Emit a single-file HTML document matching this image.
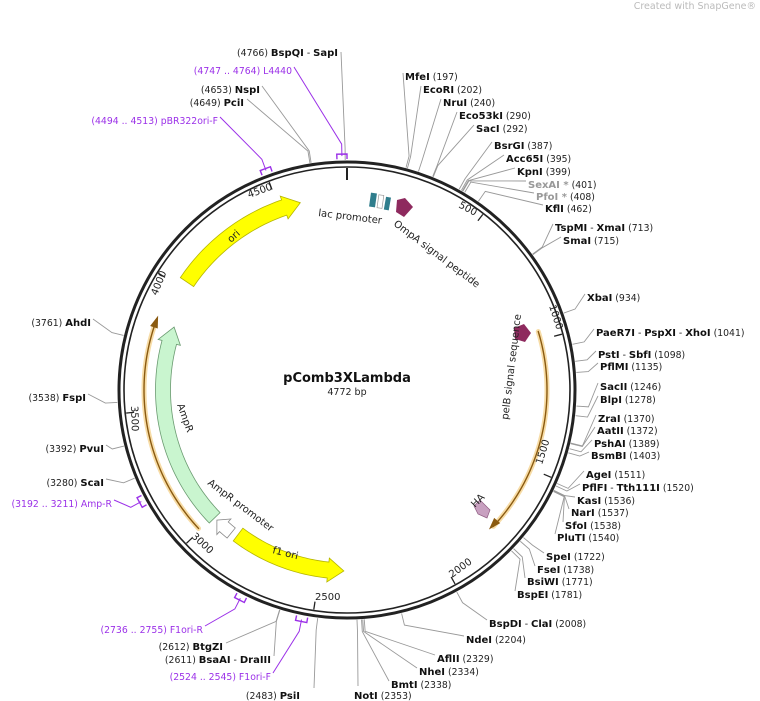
<!DOCTYPE html>
<html><head><meta charset="utf-8"><style>
html,body{margin:0;padding:0;background:#fff;}
svg{display:block;font-family:"DejaVu Sans","Liberation Sans",sans-serif;}
.n{font-weight:bold;font-size:10px;fill:#111;}
.g{font-weight:bold;font-size:10px;fill:#999;}
.p{font-size:9.3px;fill:#9b30e8;}
.k{font-size:9.3px;fill:#222;}
.f{font-size:10px;fill:#222;}
.t{font-size:10px;fill:#222;}
</style></head><body>
<svg id="s" width="760" height="701" viewBox="0 0 760 701" xmlns="http://www.w3.org/2000/svg">
<g id="lines"></g>
<text x="756" y="9" text-anchor="end" style="font-size:9.5px;fill:#bbb">Created with SnapGene®</text>
<circle cx="347" cy="390" r="228" fill="none" stroke="#222" stroke-width="3"/>
<circle cx="347" cy="390" r="223" fill="none" stroke="#222" stroke-width="1.6"/>
<g id="feat"></g>

<text x="347" y="382" text-anchor="middle" style="font-weight:bold;font-size:13px;fill:#111">pComb3XLambda</text>
<text x="347" y="395" text-anchor="middle" style="font-size:9.5px;fill:#222">4772 bp</text>

<text class="f" transform="translate(318,216) rotate(7)">lac promoter</text>
<text class="f" transform="translate(393,225) rotate(37)">OmpA signal peptide</text>
<text class="f" transform="translate(508,420) rotate(-83)">pelB signal sequence</text>
<text class="f" transform="translate(475,508) rotate(-45)">HA</text>
<text class="f" transform="translate(231,243) rotate(-42)">ori</text>
<text class="f" transform="translate(177,405) rotate(70)">AmpR</text>
<text class="f" transform="translate(207,484) rotate(37)">AmpR promoter</text>
<text class="f" transform="translate(272,553) rotate(14)">f1 ori</text>

<text class="t" transform="translate(249,198) rotate(-20)">4500</text>
<text class="t" transform="translate(157,296) rotate(-68)">4000</text>
<text class="t" transform="translate(131,406) rotate(88)">3500</text>
<text class="t" transform="translate(191,537) rotate(43)">3000</text>
<text class="t" x="315" y="600">2500</text>
<text class="t" transform="translate(452,578) rotate(-36)">2000</text>
<text class="t" transform="translate(542,465) rotate(-73)">1500</text>
<text class="t" transform="translate(549,306) rotate(72)">1000</text>
<text class="t" transform="translate(458,207) rotate(28)">500</text>

<text x="338" y="56" text-anchor="end"><tspan class="k">(4766) </tspan><tspan class="n">BspQI</tspan><tspan class="k"> - </tspan><tspan class="n">SapI</tspan></text>
<text x="292" y="74" text-anchor="end" class="p">(4747 .. 4764)  L4440</text>
<text x="260" y="93" text-anchor="end"><tspan class="k">(4653) </tspan><tspan class="n">NspI</tspan></text>
<text x="244" y="106" text-anchor="end"><tspan class="k">(4649) </tspan><tspan class="n">PciI</tspan></text>
<text x="218" y="124" text-anchor="end" class="p">(4494 .. 4513)  pBR322ori-F</text>

<text x="405" y="80"><tspan class="n">MfeI</tspan><tspan class="k">  (197)</tspan></text>
<text x="423" y="93"><tspan class="n">EcoRI</tspan><tspan class="k">  (202)</tspan></text>
<text x="443" y="106"><tspan class="n">NruI</tspan><tspan class="k">  (240)</tspan></text>
<text x="459" y="119"><tspan class="n">Eco53kI</tspan><tspan class="k">  (290)</tspan></text>
<text x="476" y="132"><tspan class="n">SacI</tspan><tspan class="k">  (292)</tspan></text>
<text x="494" y="149"><tspan class="n">BsrGI</tspan><tspan class="k">  (387)</tspan></text>
<text x="506" y="162"><tspan class="n">Acc65I</tspan><tspan class="k">  (395)</tspan></text>
<text x="517" y="175"><tspan class="n">KpnI</tspan><tspan class="k">  (399)</tspan></text>
<text x="528" y="188"><tspan class="g">SexAI *</tspan><tspan class="k">  (401)</tspan></text>
<text x="536" y="200"><tspan class="g">PfoI *</tspan><tspan class="k">  (408)</tspan></text>
<text x="545" y="212"><tspan class="n">KflI</tspan><tspan class="k">  (462)</tspan></text>
<text x="555" y="231"><tspan class="n">TspMI</tspan><tspan class="k"> - </tspan><tspan class="n">XmaI</tspan><tspan class="k">  (713)</tspan></text>
<text x="563" y="244"><tspan class="n">SmaI</tspan><tspan class="k">  (715)</tspan></text>
<text x="587" y="301"><tspan class="n">XbaI</tspan><tspan class="k">  (934)</tspan></text>
<text x="596" y="336"><tspan class="n">PaeR7I</tspan><tspan class="k"> - </tspan><tspan class="n">PspXI</tspan><tspan class="k"> - </tspan><tspan class="n">XhoI</tspan><tspan class="k">  (1041)</tspan></text>
<text x="598" y="358"><tspan class="n">PstI</tspan><tspan class="k"> - </tspan><tspan class="n">SbfI</tspan><tspan class="k">  (1098)</tspan></text>
<text x="600" y="370"><tspan class="n">PflMI</tspan><tspan class="k">  (1135)</tspan></text>
<text x="600" y="390"><tspan class="n">SacII</tspan><tspan class="k">  (1246)</tspan></text>
<text x="600" y="403"><tspan class="n">BlpI</tspan><tspan class="k">  (1278)</tspan></text>
<text x="598" y="422"><tspan class="n">ZraI</tspan><tspan class="k">  (1370)</tspan></text>
<text x="597" y="434"><tspan class="n">AatII</tspan><tspan class="k">  (1372)</tspan></text>
<text x="594" y="447"><tspan class="n">PshAI</tspan><tspan class="k">  (1389)</tspan></text>
<text x="591" y="459"><tspan class="n">BsmBI</tspan><tspan class="k">  (1403)</tspan></text>
<text x="586" y="478"><tspan class="n">AgeI</tspan><tspan class="k">  (1511)</tspan></text>
<text x="582" y="491"><tspan class="n">PflFI</tspan><tspan class="k"> - </tspan><tspan class="n">Tth111I</tspan><tspan class="k">  (1520)</tspan></text>
<text x="577" y="504"><tspan class="n">KasI</tspan><tspan class="k">  (1536)</tspan></text>
<text x="571" y="516"><tspan class="n">NarI</tspan><tspan class="k">  (1537)</tspan></text>
<text x="565" y="529"><tspan class="n">SfoI</tspan><tspan class="k">  (1538)</tspan></text>
<text x="557" y="541"><tspan class="n">PluTI</tspan><tspan class="k">  (1540)</tspan></text>
<text x="546" y="560"><tspan class="n">SpeI</tspan><tspan class="k">  (1722)</tspan></text>
<text x="537" y="573"><tspan class="n">FseI</tspan><tspan class="k">  (1738)</tspan></text>
<text x="527" y="585"><tspan class="n">BsiWI</tspan><tspan class="k">  (1771)</tspan></text>
<text x="517" y="598"><tspan class="n">BspEI</tspan><tspan class="k">  (1781)</tspan></text>
<text x="489" y="627"><tspan class="n">BspDI</tspan><tspan class="k"> - </tspan><tspan class="n">ClaI</tspan><tspan class="k">  (2008)</tspan></text>
<text x="466" y="643"><tspan class="n">NdeI</tspan><tspan class="k">  (2204)</tspan></text>
<text x="437" y="662"><tspan class="n">AflII</tspan><tspan class="k">  (2329)</tspan></text>
<text x="419" y="675"><tspan class="n">NheI</tspan><tspan class="k">  (2334)</tspan></text>
<text x="391" y="688"><tspan class="n">BmtI</tspan><tspan class="k">  (2338)</tspan></text>
<text x="354" y="699"><tspan class="n">NotI</tspan><tspan class="k">  (2353)</tspan></text>

<text x="300" y="699" text-anchor="end"><tspan class="k">(2483) </tspan><tspan class="n">PsiI</tspan></text>
<text x="271" y="680" text-anchor="end" class="p">(2524 .. 2545)  F1ori-F</text>
<text x="271" y="663" text-anchor="end"><tspan class="k">(2611) </tspan><tspan class="n">BsaAI</tspan><tspan class="k"> - </tspan><tspan class="n">DraIII</tspan></text>
<text x="223" y="650" text-anchor="end"><tspan class="k">(2612) </tspan><tspan class="n">BtgZI</tspan></text>
<text x="203" y="633" text-anchor="end" class="p">(2736 .. 2755)  F1ori-R</text>
<text x="112" y="507" text-anchor="end" class="p">(3192 .. 3211)  Amp-R</text>
<text x="104" y="486" text-anchor="end"><tspan class="k">(3280) </tspan><tspan class="n">ScaI</tspan></text>
<text x="104" y="452" text-anchor="end"><tspan class="k">(3392) </tspan><tspan class="n">PvuI</tspan></text>
<text x="86" y="401" text-anchor="end"><tspan class="k">(3538) </tspan><tspan class="n">FspI</tspan></text>
<text x="91" y="326" text-anchor="end"><tspan class="k">(3761) </tspan><tspan class="n">AhdI</tspan></text>
</svg>
<script>
const NS="http://www.w3.org/2000/svg",cx=347,cy=390,L=4772;
function pd(d,r){const t=d*Math.PI/180;return [cx+r*Math.sin(t),cy-r*Math.cos(t)];}
function pb(b,r){return pd(b/L*360,r);}
function el(par,tag,at){const e=document.createElementNS(NS,tag);for(const k in at)e.setAttribute(k,at[k]);document.getElementById(par).appendChild(e);return e;}
const sites=[[4766,341,52],[4653,262,86],[4649,247,99],[197,403,73],[202,421,86],[240,441,99],[290,457,112],[292,474,125],[387,492,142],[395,504,155],[399,515,168],[401,526,181],[408,534,193],[462,543,205],[713,553,224],[715,561,237],[934,585,294],[1041,594,329],[1098,596,351],[1135,598,363],[1246,598,383],[1278,598,396],[1370,596,415],[1372,595,427],[1389,592,440],[1403,589,452],[1511,584,471],[1520,580,484],[1536,575,497],[1537,569,509],[1538,563,522],[1540,555,534],[1722,544,553],[1738,535,566],[1771,525,578],[1781,515,591],[2008,487,620],[2204,464,636],[2329,435,655],[2334,417,668],[2338,389,681],[2353,358,686],[2483,314,688],[2611,274,656],[2612,226,643],[3280,106,479],[3392,106,445],[3538,88,394],[3761,93,319]];
for(const [b,x,y] of sites){const a=pb(b,230),m=pb(b,242);
 el("lines","polyline",{points:`${a} ${m} ${x},${y}`,fill:"none",stroke:"#999","stroke-width":0.9});}
const prim=[[4747,4764,294,67],[4494,4513,220,117],[2524,2545,273,673],[2736,2755,205,626],[3192,3211,114,500]];
for(const [b1,b2,x,y] of prim){const c=(b1+b2)/2,a=pb(c,234),m=pb(c,246);
 el("lines","polyline",{points:`${a} ${m} ${x},${y}`,fill:"none",stroke:"#9b30e8","stroke-width":1});
 const p1=pb(b1-8,231),p2=pb(b1-8,236),p3=pb(b2+8,236),p4=pb(b2+8,231);
 el("lines","polyline",{points:`${p1} ${p2} ${p3} ${p4}`,fill:"none",stroke:"#9b30e8","stroke-width":1.4});}
for(const b of [500,1000,1500,2000,2500,3000,3500,4000,4500]){const a=pb(b,222),c=pb(b,214);
 el("feat","line",{x1:a[0],y1:a[1],x2:c[0],y2:c[1],stroke:"#222","stroke-width":1.3});}
{const a=pb(0,222),c=pb(0,210);el("feat","line",{x1:a[0],y1:a[1],x2:c[0],y2:c[1],stroke:"#222","stroke-width":2});}
function arrow(a1,a2,r,w,head,fill,stroke){
 const dir=a2>a1?1:-1,hb=a2-dir*head,pts=[];const N=40;
 for(let i=0;i<=N;i++){pts.push(pd(a1+(hb-a1)*i/N,r+w/2));}
 pts.push(pd(hb,r+w/2+4));pts.push(pd(a2,r));pts.push(pd(hb,r-w/2-4));
 for(let i=N;i>=0;i--){pts.push(pd(a1+(hb-a1)*i/N,r-w/2));}
 el("feat","polygon",{points:pts.map(p=>p.join(",")).join(" "),fill:fill,stroke:stroke,"stroke-width":0.8});}
function arc(a1,a2,r,st,sw){const p=[];for(let i=0;i<=60;i++)p.push(pd(a1+(a2-a1)*i/60,r));
 el("feat","polyline",{points:p.map(q=>q.join(",")).join(" "),fill:"none",stroke:st,"stroke-width":sw,"stroke-linecap":"round"});}
arrow(304,346,193,16,5,"#ffff00","#b5b500");
arrow(226,290,184,15,5,"#c9f5cf","#6a9a70");
arrow(217,181,181,16,5,"#ffff00","#b5b500");
arrow(219,225,184,13,3,"#fff","#888");
arc(227,289,203,"#f7dca6",5);arc(227,289,203,"#8a5a10",1.4);
arc(73,133,200,"#f7dca6",5);arc(73,133,200,"#8a5a10",1.4);
{let t=pd(291.5,203),a=pd(288,199),b=pd(288,207);el("feat","polygon",{points:`${t} ${a} ${b}`,fill:"#8a5a10"});
 t=pd(134.5,199);a=pd(131,195);b=pd(131,203);el("feat","polygon",{points:`${t} ${a} ${b}`,fill:"#8a5a10"});}
el("feat","rect",{x:370,y:193,width:6,height:14,fill:"#2f7d8c",transform:"rotate(8 373 200)"});
el("feat","rect",{x:378,y:195,width:5,height:13,fill:"none",stroke:"#999","stroke-width":0.7,transform:"rotate(8 380 201)"});
el("feat","rect",{x:385,y:197,width:5,height:13,fill:"#2f7d8c",transform:"rotate(10 387 203)"});
el("feat","polygon",{points:"397,200 405,198 413,207 404,217 396,212",fill:"#8e2a5e"});
el("feat","polygon",{points:"514,328 524,324 531,333 525,342 515,339",fill:"#8e2a5e"});
el("feat","polygon",{points:"474,506 480,500 490,510 487,518 478,514",fill:"#c8a0c0",stroke:"#8e5a80","stroke-width":0.7});
</script>
</body></html>
